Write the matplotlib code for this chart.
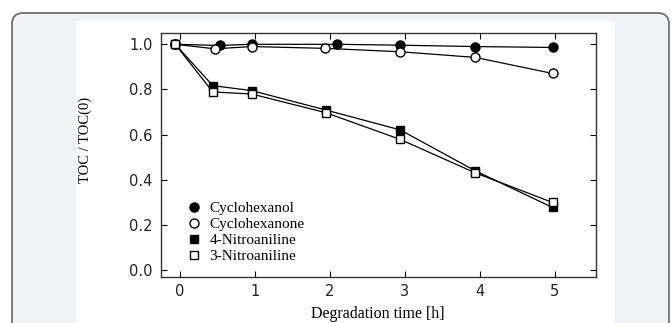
import matplotlib.pyplot as plt
from matplotlib.patches import FancyBboxPatch, Rectangle

# values
t_ol = [-0.06, 0.53, 0.96, 2.1, 2.94, 3.94, 4.97]
cyclohexanol = [1.0, 0.995, 1.0, 1.0, 0.996, 0.99, 0.986]

t_one = [-0.06, 0.47, 0.96, 1.94, 2.94, 3.94, 4.97]
cyclohexanone = [1.0, 0.98, 0.99, 0.982, 0.967, 0.942, 0.871]

t_na = [-0.06, 0.44, 0.96, 1.95, 2.94, 3.94, 4.97]
nitro4 = [1.0, 0.817, 0.795, 0.709, 0.621, 0.44, 0.278]
nitro3 = [1.0, 0.789, 0.78, 0.697, 0.579, 0.431, 0.30]

labels = ["Cyclohexanol", "Cyclohexanone", "4-Nitroaniline", "3-Nitroaniline"]
xticks = [0, 1, 2, 3, 4, 5]
yticks = [0.0, 0.2, 0.4, 0.6, 0.8, 1.0]

W, H = 672, 323
fig = plt.figure(figsize=(W / 100, H / 100), dpi=100)
fig.patch.set_facecolor("white")

# page background: grey card with rounded border and white figure panel
bg = fig.add_axes([0, 0, 1, 1], zorder=-1)
bg.set_xlim(0, W)
bg.set_ylim(H, 0)
bg.axis("off")
bg.add_patch(FancyBboxPatch((12, 13), 657, 400, boxstyle="round,pad=0,rounding_size=11",
                            facecolor="#f1f2f4", edgecolor="#6f6f6f", lw=1.3))
bg.add_patch(Rectangle((76, 21), 539, 320, facecolor="white", edgecolor="none"))

ax = fig.add_axes([161 / W, 1 - 277 / H, (596 - 161) / W, (277 - 33) / H])
ax.set_facecolor("white")

ax.plot(t_ol, cyclohexanol, color="black", lw=0.9, marker="o", ms=6.5,
        mfc="black", mec="black", label=labels[0])
ax.plot(t_one, cyclohexanone, color="black", lw=0.9, marker="o", ms=6.5,
        mfc="white", mec="black", mew=1.0, label=labels[1])
ax.plot(t_na, nitro4, color="black", lw=0.9, marker="s", ms=5.5,
        mfc="black", mec="black", label=labels[2])
ax.plot(t_na, nitro3, color="black", lw=0.9, marker="s", ms=5.5,
        mfc="white", mec="black", mew=1.0, label=labels[3])

ax.set_xlim(-0.25, 5.55)
ax.set_ylim(-0.03, 1.05)
ax.set_xticks(xticks)
ax.set_yticks(yticks)
ax.set_yticklabels([f"{v:.1f}" for v in yticks])
ax.tick_params(direction="in", length=4, width=0.8, top=True, right=True,
               labeltop=False, labelright=False, labelsize=10.5, labelcolor="#222222")
ax.tick_params(axis="y", pad=6)
ax.tick_params(axis="x", pad=5)
for s in ax.spines.values():
    s.set_linewidth(1.0)
    s.set_color("#333333")

ax.set_ylabel("TOC / TOC(0)", family="Liberation Serif", fontsize=10.5)
ax.yaxis.set_label_coords(-0.159, 0.56)

# legend: markers only
handles, _ = ax.get_legend_handles_labels()
leg_handles = []
for h in handles:
    leg_handles.append(plt.Line2D([], [], ls="none", marker=h.get_marker(),
                                  ms=h.get_markersize(), mfc=h.get_mfc(), mec="black"))
ax.legend(leg_handles, labels, loc="upper left", bbox_to_anchor=(0.045, 0.34),
          frameon=False, prop={"family": "Liberation Serif", "size": 11},
          handlelength=0.8, handletextpad=0.6, labelspacing=0.15, borderpad=0)

fig.text(378 / W, (H - 318) / H, "Degradation time [h]", ha="center", va="baseline",
         family="Liberation Serif", fontsize=11.5)

fig.savefig("out.png", dpi=100)
